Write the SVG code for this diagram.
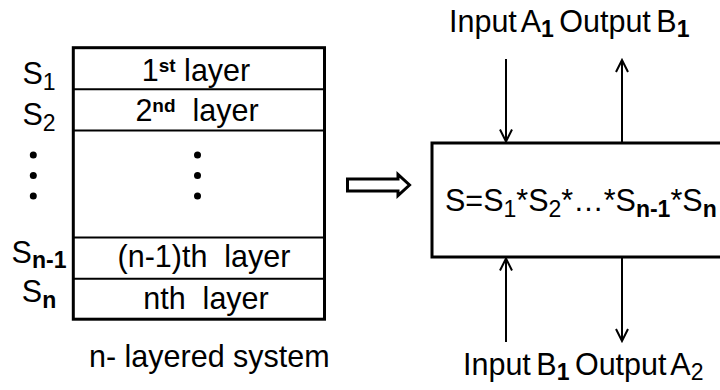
<svg xmlns="http://www.w3.org/2000/svg" width="720" height="390" viewBox="0 0 720 390">
<style>
  text { font-family: "Liberation Sans", Arial, sans-serif; font-size: 30.5px; fill: #000; }
  .sub { font-size: 23px; }
  .sup { font-size: 19px; font-weight: bold; }
  .b { font-weight: bold; }
  .outer { fill: #fff; stroke: #000; stroke-width: 3; }
  .inner { stroke: #000; stroke-width: 2; fill: none; }
  .conn { stroke: #000; stroke-width: 2; fill: none; marker-end: url(#ah); }
  .dot { fill: #000; }
</style>
<defs>
  <marker id="ah" markerUnits="userSpaceOnUse" markerWidth="16" markerHeight="16" viewBox="0 0 16 16" refX="14" refY="8" orient="auto">
    <path d="M2,2 L14,8 L2,14" fill="none" stroke="#000" stroke-width="2"/>
  </marker>
</defs>
<rect width="720" height="390" fill="#fff"/>

<g id="layered-system">
  <rect class="outer" x="73.3" y="47.7" width="251.2" height="271.5"/>
  <line class="inner" x1="73" y1="89.3" x2="325" y2="89.3"/>
  <line class="inner" x1="73" y1="130.5" x2="325" y2="130.5"/>
  <line class="inner" x1="73" y1="237.5" x2="325" y2="237.5"/>
  <line class="inner" x1="73" y1="278.8" x2="325" y2="278.8"/>
  <text x="196" y="81" text-anchor="middle">1<tspan class="sup" dy="-9">st</tspan><tspan dy="9"> layer</tspan></text>
  <text x="197" y="121" text-anchor="middle" xml:space="preserve">2<tspan class="sup" dy="-9">nd</tspan><tspan dy="9">  layer</tspan></text>
  <circle class="dot" cx="197.5" cy="155" r="3.5"/>
  <circle class="dot" cx="197.5" cy="175.5" r="3.5"/>
  <circle class="dot" cx="197.5" cy="196" r="3.5"/>
  <text x="204" y="267" text-anchor="middle" xml:space="preserve">(n-1)th  layer</text>
  <text x="206" y="308.5" text-anchor="middle" xml:space="preserve">nth  layer</text>
  <text x="89" y="366.5">n- layered system</text>
</g>

<g id="layer-labels">
  <text x="39" y="84" text-anchor="middle">S<tspan class="sub" dy="6">1</tspan></text>
  <text x="39" y="125" text-anchor="middle">S<tspan class="sub" dy="6">2</tspan></text>
  <circle class="dot" cx="33.3" cy="155" r="3.5"/>
  <circle class="dot" cx="33.3" cy="175.5" r="3.5"/>
  <circle class="dot" cx="33.3" cy="196" r="3.5"/>
  <text x="39" y="263" text-anchor="middle">S<tspan class="sub b" dy="5">n-1</tspan></text>
  <text x="39" y="301.5" text-anchor="middle">S<tspan class="sub b" dy="6">n</tspan></text>
</g>

<g id="transform-arrow">
  <path d="M347.5,179 L398,179 L398,174.5 L409.5,185 L398,195.5 L398,191 L347.5,191 Z" fill="#fff" stroke="#000" stroke-width="3" stroke-linejoin="miter"/>
</g>

<g id="system-box">
  <rect class="outer" x="432" y="143" width="300" height="114"/>
  <text x="445" y="211">S=S<tspan class="sub" dy="6">1</tspan><tspan dy="-6">*S</tspan><tspan class="sub" dy="6">2</tspan><tspan dy="-6">*…*S</tspan><tspan class="sub b" dy="6">n-1</tspan><tspan dy="-6">*S</tspan><tspan class="sub b" dy="6">n</tspan></text>
</g>

<g id="top-label">
  <text x="449" y="32" style="word-spacing:-3px">Input A<tspan class="sub b" dy="5">1</tspan><tspan dy="-5"> Output B</tspan><tspan class="sub b" dy="5">1</tspan></text>
</g>
<g id="bottom-label">
  <text x="463" y="375" style="word-spacing:-3px">Input B<tspan class="sub b" dy="5">1</tspan><tspan dy="-5"> Output A</tspan><tspan class="sub" dy="5">2</tspan></text>
</g>

<g id="connectors">
  <path class="conn" d="M506,59 L506,141.5"/>
  <path class="conn" d="M622,142 L622,60"/>
  <path class="conn" d="M506,342 L506,258.5"/>
  <path class="conn" d="M622,258 L622,341"/>
</g>
</svg>
